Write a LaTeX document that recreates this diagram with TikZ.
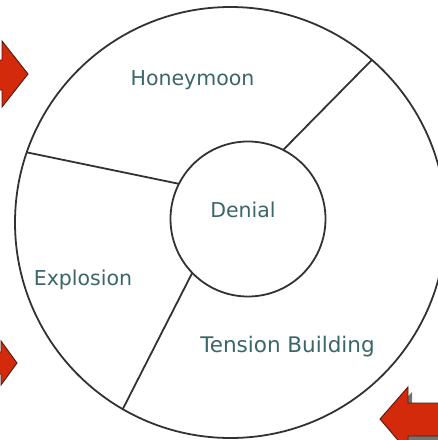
\documentclass[tikz,border=0pt]{standalone}
\usepackage{fontspec}
\setmainfont{DejaVu Sans}
\definecolor{linec}{RGB}{50,50,50}
\definecolor{txtc}{RGB}{58,102,104}
\definecolor{arrred}{RGB}{212,42,12}
\definecolor{arrdark}{RGB}{80,25,15}
\tikzset{
  ring/.style={circle, draw=linec, line width=1.8pt, inner sep=0pt, outer sep=0pt},
  spoke/.style={draw=linec, line width=1.8pt},
  lbl/.style={text=txtc, font=\fontsize{20.5}{24}\selectfont, anchor=base, inner sep=0pt},
  redarrow/.style={fill=arrred, draw=arrdark, line width=0.9pt, line join=miter},
  arrshadow/.style={fill=black!55, draw=none}
}
\begin{document}
\begin{tikzpicture}[x=1pt, y=-1pt]
\useasboundingbox (0,0) rectangle (438,440);
% circles
\node[ring, minimum size=431pt] (outer) at (230.5,222.5) {};
\node[ring, minimum size=155pt] (inner) at (248,219) {};
% spokes
\draw[spoke] (inner.63) -- (outer.49.4);
\draw[spoke] (inner.153.4) -- (outer.161.4);
\draw[spoke] (inner.224.5) -- (outer.240.5);
% labels
\node[lbl] (honey) at (192.5,85) {Honeymoon};
\node[lbl] (denial) at (243,217) {Denial};
\node[lbl] (explo) at (83,285) {Explosion};
\node[lbl, font=\fontsize{21.5}{24}\selectfont] (tension) at (287.5,352) {Tension Building};
% arrows
\fill[redarrow] (-10,60) -- (2,60) -- (2,41) -- (28,74) -- (2,107) -- (2,90) -- (-10,90) -- cycle;
\fill[redarrow] (-10,352) -- (1,352) -- (1,341) -- (17,363) -- (1,385) -- (1,374) -- (-10,374) -- cycle;
\fill[arrshadow] (412,392) -- (412,407) -- (445,407) -- (445,440) -- (412,440) -- (412,455) -- (384,423) -- cycle;
\fill[redarrow] (408,387) -- (408,403) -- (445,403) -- (445,436) -- (408,436) -- (408,452) -- (380,419) -- cycle;
\end{tikzpicture}
\end{document}
